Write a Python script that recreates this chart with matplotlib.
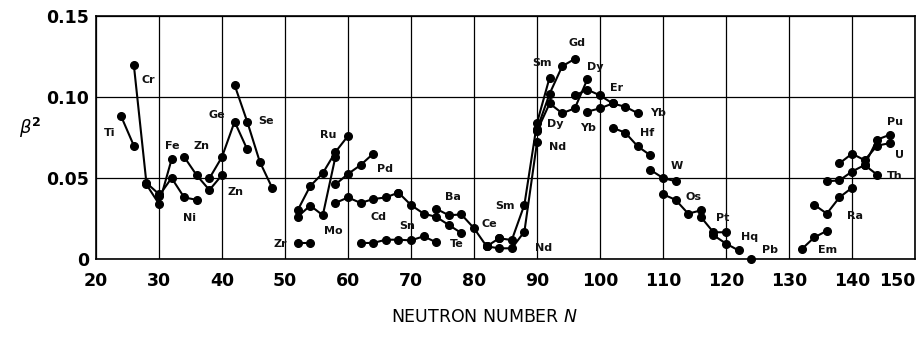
import matplotlib
matplotlib.use("Agg")
import matplotlib.pyplot as plt

plt.rcParams['font.family'] = ['DejaVu Sans']

# ---- data (neutron number N, beta^2) ----
Ti_N = [24, 26];                 Ti_b = [0.088, 0.070]
Cr_N = [26, 28, 30];             Cr_b = [0.120, 0.047, 0.040]
Fe_N = [28, 30, 32];             Fe_b = [0.046, 0.034, 0.0615]
Ni_N = [30, 32, 34, 36];         Ni_b = [0.039, 0.050, 0.038, 0.0365]
Zn_N = [34, 36, 38, 40];         Zn_b = [0.063, 0.0516, 0.0426, 0.0518]
Ge_N = [38, 40, 42, 44];         Ge_b = [0.0498, 0.063, 0.0848, 0.0677]
Se_N = [42, 44, 46, 48];         Se_b = [0.1074, 0.0848, 0.060, 0.0436]
Zr_N = [52, 54];                 Zr_b = [0.010, 0.010]
Mo_N = [52, 54, 56, 58];         Mo_b = [0.026, 0.033, 0.027, 0.063]
Ru_N = [52, 54, 56, 58, 60];     Ru_b = [0.030, 0.045, 0.053, 0.066, 0.076]
Pd_N = [58, 60, 62, 64];         Pd_b = [0.046, 0.0525, 0.058, 0.065]
Cd_N = [58, 60, 62, 64, 66, 68]; Cd_b = [0.0346, 0.038, 0.0346, 0.037, 0.038, 0.041]
Sn_N = [62, 64, 66, 68, 70, 72, 74]
Sn_b = [0.0099, 0.0099, 0.0119, 0.0119, 0.0115, 0.014, 0.0103]
Te_N = [68, 70, 72, 74, 76, 78]; Te_b = [0.041, 0.0333, 0.028, 0.026, 0.021, 0.016]
Ba_N = [74, 76, 78, 80, 82];     Ba_b = [0.031, 0.027, 0.0275, 0.019, 0.0078]
Ce_N = [82, 84];                 Ce_b = [0.0078, 0.0128]
Nd_N = [82, 84, 86, 88, 90];     Nd_b = [0.0078, 0.0066, 0.0066, 0.0169, 0.072]
Sm_N = [84, 86, 88, 90, 92];     Sm_b = [0.0128, 0.0117, 0.0335, 0.084, 0.112]
Gd_N = [90, 92, 94, 96];         Gd_b = [0.080, 0.102, 0.119, 0.1235]
Dy_N = [90, 92, 94, 96, 98];     Dy_b = [0.079, 0.096, 0.090, 0.093, 0.111]
Er_N = [96, 98, 100, 102];       Er_b = [0.101, 0.1045, 0.101, 0.096]
Yb_N = [98, 100, 102, 104, 106]; Yb_b = [0.091, 0.093, 0.096, 0.094, 0.090]
Hf_N = [102, 104, 106, 108];     Hf_b = [0.081, 0.078, 0.0695, 0.064]
W_N = [108, 110, 112];           W_b = [0.055, 0.050, 0.048]
Os_N = [110, 112, 114, 116];     Os_b = [0.040, 0.0365, 0.028, 0.030]
Pt_N = [116, 118, 120];          Pt_b = [0.026, 0.0165, 0.0165]
Hg_N = [118, 120, 122];          Hg_b = [0.0147, 0.0095, 0.0053]
Pb_N = [124];                    Pb_b = [0.0003]
Em_N = [132, 134, 136];          Em_b = [0.006, 0.0133, 0.0174]
Ra_N = [134, 136, 138, 140];     Ra_b = [0.0335, 0.028, 0.038, 0.044]
Th_N = [136, 138, 140, 142, 144]; Th_b = [0.048, 0.0485, 0.054, 0.058, 0.052]
U_N = [138, 140, 142, 144, 146];  U_b = [0.059, 0.065, 0.061, 0.070, 0.0715]
Pu_N = [142, 144, 146];          Pu_b = [0.058, 0.0737, 0.0767]

series = [
    (Ti_N, Ti_b), (Cr_N, Cr_b), (Fe_N, Fe_b), (Ni_N, Ni_b), (Zn_N, Zn_b),
    (Ge_N, Ge_b), (Se_N, Se_b), (Zr_N, Zr_b), (Mo_N, Mo_b), (Ru_N, Ru_b),
    (Pd_N, Pd_b), (Cd_N, Cd_b), (Sn_N, Sn_b), (Te_N, Te_b), (Ba_N, Ba_b),
    (Ce_N, Ce_b), (Nd_N, Nd_b), (Sm_N, Sm_b), (Gd_N, Gd_b), (Dy_N, Dy_b),
    (Er_N, Er_b), (Yb_N, Yb_b), (Hf_N, Hf_b), (W_N, W_b), (Os_N, Os_b),
    (Pt_N, Pt_b), (Hg_N, Hg_b), (Pb_N, Pb_b), (Em_N, Em_b), (Ra_N, Ra_b),
    (Th_N, Th_b), (U_N, U_b), (Pu_N, Pu_b),
]

labels = [
    ("Ti", 22.2, 0.0778), ("Cr", 28.3, 0.1105), ("Fe", 32.1, 0.0698),
    ("Zn", 36.8, 0.0698), ("Ge", 39.2, 0.0889), ("Se", 47.0, 0.0852),
    ("Ni", 34.9, 0.0253), ("Zn", 42.1, 0.0414), ("Ru", 56.8, 0.0765),
    ("Zr", 49.2, 0.0093), ("Mo", 57.6, 0.0173), ("Pd", 65.9, 0.0556),
    ("Cd", 64.8, 0.0259), ("Sn", 69.4, 0.0204), ("Ba", 76.7, 0.0383),
    ("Te", 77.3, 0.0093), ("Ce", 82.4, 0.0216), ("Sm", 84.9, 0.0327),
    ("Nd", 91.0, 0.0068), ("Sm", 90.8, 0.121), ("Gd", 96.3, 0.1333),
    ("Dy", 99.2, 0.1185), ("Er", 102.7, 0.1056), ("Yb", 109.2, 0.0901),
    ("Dy", 92.9, 0.0833), ("Yb", 98.1, 0.0809), ("Nd", 93.2, 0.0691),
    ("Hf", 107.5, 0.0778), ("W", 112.2, 0.0574), ("Os", 114.8, 0.0383),
    ("Pt", 119.4, 0.0253), ("Hq", 123.8, 0.0136), ("Pb", 127.0, 0.0056),
    ("Em", 136.2, 0.0056), ("Ra", 140.5, 0.0265), ("Th", 146.8, 0.0512),
    ("U", 147.6, 0.0642), ("Pu", 146.8, 0.0846),
]

xticks = [20, 30, 40, 50, 60, 70, 80, 90, 100, 110, 120, 130, 140, 150]
yticks = [0, 0.05, 0.10, 0.15]
yticklabels = ["0", "0.05", "0.10", "0.15"]

fig = plt.figure(figsize=(9.17, 3.39), dpi=100)
ax = fig.add_axes([96 / 917, 1 - 259 / 339, (915 - 96) / 917, (259 - 16) / 339])

for N, b in series:
    ax.plot(N, b, '-o', color='black', lw=1.5, ms=5.5, mec='black',
            mfc='black', zorder=3, clip_on=False)

for txt, x, y in labels:
    ax.text(x, y, txt, fontsize=8, fontweight='bold', ha='center',
            va='center', color='#111111')

ax.set_xlim(20, 150)
ax.set_ylim(0, 0.15)
ax.set_xticks(xticks)
ax.set_xticklabels([str(t) for t in xticks])
ax.set_yticks(yticks)
ax.set_yticklabels(yticklabels)
ax.grid(True, color='black', lw=0.9)
ax.set_axisbelow(True)
ax.tick_params(length=0, labelsize=12.5)
ax.tick_params(axis='x', pad=9)
ax.tick_params(axis='y', pad=5)
for lab in ax.get_xticklabels() + ax.get_yticklabels():
    lab.set_fontweight('bold')
ax.get_xticklabels()[-1].set_horizontalalignment('right')
for s in ax.spines.values():
    s.set_linewidth(1.2)
    s.set_color('black')

fig.text(30 / 917, 1 - 128 / 339, r'$\beta^{\mathbf{2}}$', fontsize=13,
         ha='center', va='center')
fig.text(485 / 917, 1 - 317 / 339, 'NEUTRON NUMBER $\\mathit{N}$',
         fontsize=12.5, ha='center', va='center')

fig.savefig('out.png', dpi=100)
